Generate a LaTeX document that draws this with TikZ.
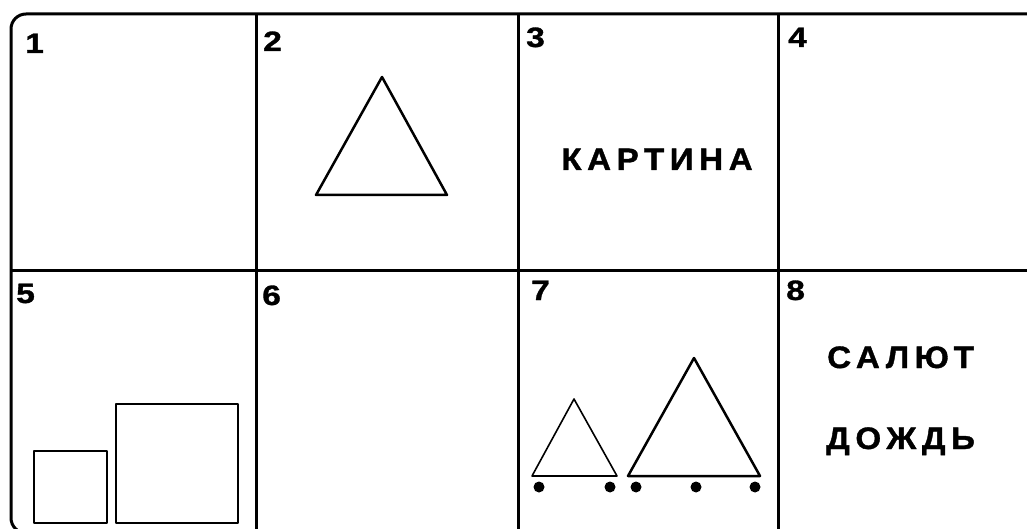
\documentclass[tikz,border=0pt]{standalone}
\usepackage{fontspec}
\setmainfont{Liberation Sans}
\newfontfamily\cellfont{Liberation Sans}[FakeStretch=1.2, FakeBold=1.2]
\newfontfamily\wordfont{Liberation Sans}[FakeStretch=1.07, FakeBold=1.2, LetterSpace=18]
\usetikzlibrary{positioning}
\tikzset{
    frame/.style={line width=3pt, rounded corners=15pt},
    cellline/.style={line width=3pt},
    cellnum/.style={anchor=base west, inner sep=0pt, font=\cellfont\bfseries\fontsize{28}{28}\selectfont},
    word/.style={inner sep=0pt, font=\wordfont\bfseries\fontsize{31}{31}\selectfont},
    fig/.style={line width=2.5pt, line join=round},
    thinfig/.style={line width=1.6pt, line join=round},
    wheel/.style={circle, fill=black, inner sep=0pt, minimum size=11pt}
}

\begin{document}
\begin{tikzpicture}[x=1pt, y=-1pt]
    \useasboundingbox (0,0) rectangle (1027,529);
    \clip (0,0) rectangle (1027,529);

    % 1. RAMKA I SETKA
    \draw[frame] (11,14) rectangle (1045,533);
    \draw[cellline] (11,270) -- (1045,270);
    \foreach \x in {256,518,778}
        \draw[cellline] (\x,14) -- (\x,533);

    % 2. NOMERA KLETOK
    \node[cellnum] (n1) at (25,53) {1};
    \node[cellnum] (n2) at (263,51) {2};
    \node[cellnum] (n3) at (526,47) {3};
    \node[cellnum] (n4) at (788,47) {4};
    \node[cellnum] (n5) at (16,303) {5};
    \node[cellnum] (n6) at (262,305) {6};
    \node[cellnum] (n7) at (531,300) {7};
    \node[cellnum] (n8) at (786,300) {8};

    % 3. FIGURY
    \draw[fig] (316,195) -- (382,77) -- (447,195) -- cycle;
    \draw[fig] (34,451) rectangle (107,523);
    \draw[fig] (116,404) rectangle (238,523);
    \draw[thinfig] (532,476) -- (574,399) -- (617,476) -- cycle;
    \draw[fig] (628,476) -- (694,358) -- (760,476) -- cycle;
    \foreach \x [count=\i] in {539,610,636,696,755}
        \node[wheel] (w\i) at (\x,487) {};

    % 4. SLOVA
    \node[word, anchor=base] (kartina) at (657,170) {КАРТИНА};
    \node[word, anchor=base west] (salyut) at (827,368) {САЛЮТ};
    \node[word, anchor=base west] (dozhd) at (826,449) {ДОЖДЬ};

\end{tikzpicture}
\end{document}
